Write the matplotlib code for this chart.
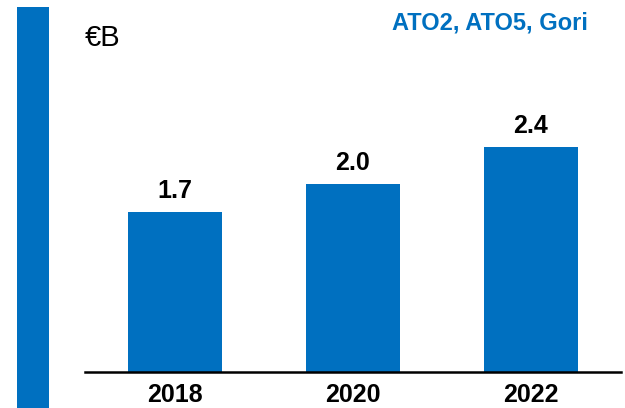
import matplotlib
matplotlib.use("Agg")
import matplotlib.pyplot as plt
from matplotlib.patches import Rectangle

years = ["2018", "2020", "2022"]
values = [1.7, 2.0, 2.4]
value_labels = ["1.7", "2.0", "2.4"]
unit_label = "€B"
scope_label = "ATO2, ATO5, Gori"

BLUE = "#0070C0"
plt.rcParams['font.family'] = ['Liberation Sans', 'DejaVu Sans']

W, H = 625, 408
fig = plt.figure(figsize=(W / 100, H / 100), dpi=100)

# axes placement in pixels
left_px, right_px, base_px, top_px = 85, 621, 372, 0
ax = fig.add_axes([left_px / W, (H - base_px) / H, (right_px - left_px) / W, (base_px - top_px) / H])

x = list(range(len(years)))
bars = ax.bar(x, values, width=0.528, color=BLUE, zorder=2)
ax.set_xlim(-0.506, 2.506)
ax.set_ylim(0, 3.96)

for b, lab in zip(bars, value_labels):
    ax.annotate(lab, (b.get_x() + b.get_width() / 2, b.get_height()),
                xytext=(0, 6.5), textcoords="offset points",
                ha="center", va="bottom", fontsize=18, fontweight="bold", color="black")

ax.set_xticks(x)
ax.set_xticklabels(years, fontsize=18, fontweight="bold")
ax.tick_params(axis="x", length=0, pad=8)
ax.set_yticks([])
for s in ["top", "right", "left"]:
    ax.spines[s].set_visible(False)
ax.spines["bottom"].set_linewidth(1.8)
ax.spines["bottom"].set_color("black")
ax.patch.set_alpha(0)

# decorative left bar
fig.patches.append(Rectangle((17 / W, 0), 32 / W, (H - 7) / H, transform=fig.transFigure,
                             facecolor=BLUE, edgecolor="none", zorder=0))

fig.text(85 / W, 1 - 38 / H, unit_label, fontsize=21, color="black", ha="left", va="center")
fig.text(588 / W, 1 - 23 / H, scope_label, fontsize=17, fontweight="bold", color=BLUE,
         ha="right", va="center")

fig.savefig("out.png", dpi=100)
